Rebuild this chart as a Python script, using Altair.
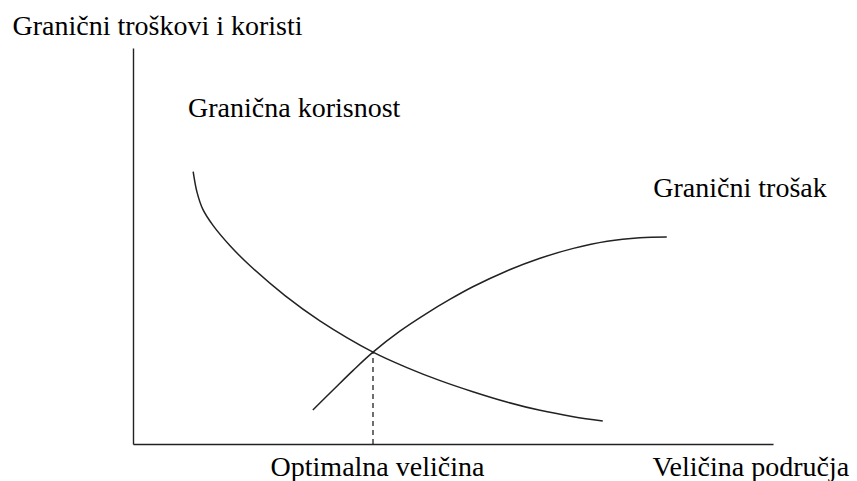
import altair as alt
import pandas as pd

# Marginal benefit curve (falling) and marginal cost curve (rising)
benefit_x = [0.94, 1.00, 1.09, 1.25, 1.52, 1.83, 2.38, 2.92, 3.75, 4.28, 4.80, 5.31, 5.84, 6.36, 6.88, 7.34]
benefit_y = [6.88, 6.36, 5.93, 5.52, 5.00, 4.50, 3.74, 3.11, 2.32, 1.93, 1.60, 1.32, 1.06, 0.85, 0.69, 0.58]
cost_x = [2.81, 3.13, 3.44, 3.75, 4.17, 4.59, 4.95, 5.31, 5.84, 6.36, 6.88, 7.41, 7.92, 8.34]
cost_y = [0.86, 1.37, 1.86, 2.32, 2.85, 3.30, 3.65, 3.97, 4.37, 4.69, 4.94, 5.12, 5.21, 5.23]

# Equilibrium where the two curves cross
opt_x = 3.75
opt_y = 2.32

FONT = "Liberation Serif"
INK = "#222222"

benefit = pd.DataFrame({"x": benefit_x, "y": benefit_y})
cost = pd.DataFrame({"x": cost_x, "y": cost_y})
optimum = pd.DataFrame({"x": [opt_x], "y0": [0.0], "y": [opt_y]})

x_scale = alt.Scale(domain=[0, 10], nice=False, zero=False)
y_scale = alt.Scale(domain=[0, 10], nice=False, zero=False)

x_axis = alt.Axis(
    values=[opt_x],
    labelExpr="'Optimalna veličina'",
    ticks=False,
    tickSize=0,
    grid=False,
    domainColor=INK,
    domainWidth=1.4,
    labelFont=FONT,
    labelFontSize=28,
    labelColor="black",
    labelBaseline="alphabetic",
    labelPadding=31,
    labelOffset=4,
    labelLimit=0,
    labelFlush=False,
    labelOverlap=False,
    labelBound=False,
    title="Veličina područja",
    titleFont=FONT,
    titleFontSize=28,
    titleFontWeight="normal",
    titleColor="black",
    titleAlign="left",
    titleBaseline="alphabetic",
    titleAnchor="start",
    titleLimit=0,
    titleX=519,
    titleY=31,
)

y_axis = alt.Axis(
    labels=False,
    ticks=False,
    tickSize=0,
    grid=False,
    domainColor=INK,
    domainWidth=1.4,
    title="Granični troškovi i koristi",
    titleFont=FONT,
    titleFontSize=28,
    titleFontWeight="normal",
    titleColor="black",
    titleAngle=0,
    titleAlign="left",
    titleBaseline="alphabetic",
    titleLimit=0,
    titleX=-121,
    titleY=-14,
)

curve_style = dict(color=INK, strokeWidth=1.5, interpolate="catmull-rom")

benefit_line = alt.Chart(benefit).mark_line(**curve_style).encode(
    x=alt.X("x:Q", scale=x_scale, axis=x_axis),
    y=alt.Y("y:Q", scale=y_scale, axis=y_axis),
    order="x:Q",
)

cost_line = alt.Chart(cost).mark_line(**curve_style).encode(
    x=alt.X("x:Q", scale=x_scale),
    y=alt.Y("y:Q", scale=y_scale),
    order="x:Q",
)

drop_line = alt.Chart(optimum).mark_rule(
    color=INK, strokeWidth=1.3, strokeDash=[5, 4]
).encode(
    x=alt.X("x:Q", scale=x_scale),
    y=alt.Y("y0:Q", scale=y_scale),
    y2="y:Q",
)

label_style = dict(font=FONT, fontSize=28, color="black", align="left", baseline="alphabetic")

benefit_label = alt.Chart(pd.DataFrame({"t": ["Granična korisnost"]})).mark_text(**label_style).encode(
    x=alt.X(datum=0.86, scale=x_scale),
    y=alt.Y(datum=8.26, scale=y_scale),
    text="t:N",
)

cost_label = alt.Chart(pd.DataFrame({"t": ["Granični trošak"]})).mark_text(**label_style).encode(
    x=alt.X(datum=8.13, scale=x_scale),
    y=alt.Y(datum=6.24, scale=y_scale),
    text="t:N",
)

chart = alt.layer(
    benefit_line, cost_line, drop_line, benefit_label, cost_label
).properties(
    width=640,
    height=396,
    autosize=alt.AutoSizeParams(type="none"),
    padding={"left": 133, "top": 48, "right": 84, "bottom": 37},
    background="white",
).configure_view(stroke=None)

chart.save("out.html", embed_options={"renderer": "svg", "actions": False})
